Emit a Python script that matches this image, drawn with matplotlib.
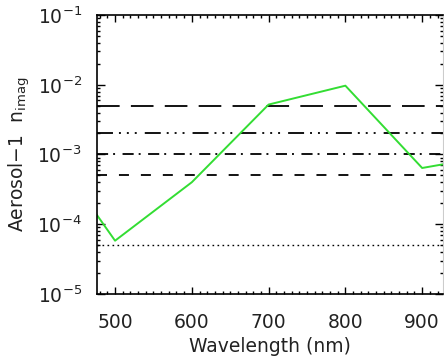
import matplotlib
matplotlib.use("Agg")
import matplotlib.pyplot as plt
from matplotlib.ticker import LogLocator, MultipleLocator, NullFormatter

# aerosol imaginary refractive index vs wavelength
wavelength = [450, 500, 600, 700, 800, 900, 1000]
n_imag = [3.5e-4, 5.8e-5, 4.0e-4, 5.2e-3, 9.7e-3, 6.4e-4, 1.0e-3]

# constant reference values (horizontal black lines)
ref_levels = [5e-3, 2e-3, 1e-3, 5e-4, 5e-5]
ref_dashes = [(16.3, 8.1),
              (11.5, 4.3, 1.4, 4.3, 1.4, 4.3, 1.4, 5.8),
              (8.0, 3.6, 1.4, 5.4),
              (7.2, 8.6),
              (1.2, 2.4)]
ref_widths = [1.3, 1.3, 1.3, 1.3, 1.0]

plt.rcParams["lines.scale_dashes"] = False
plt.rcParams["font.family"] = "DejaVu Sans"

fig = plt.figure(figsize=(4.44, 3.58), dpi=100)
ax = fig.add_axes([0.2185, 0.179, 0.779, 0.779])

for lev, d, w in zip(ref_levels, ref_dashes, ref_widths):
    ax.axhline(lev, color="black", lw=w, dashes=d)

ax.plot(wavelength, n_imag, color="#33dd33", lw=1.4)

ax.set_yscale("log")
ax.set_xlim(476.5, 927)
ax.set_ylim(1e-5, 1e-1)

ax.xaxis.set_major_locator(MultipleLocator(100))
ax.xaxis.set_minor_locator(MultipleLocator(10))
ax.yaxis.set_major_locator(LogLocator(base=10, numticks=10))
ax.yaxis.set_minor_locator(LogLocator(base=10, subs=range(2, 10), numticks=10))
ax.yaxis.set_minor_formatter(NullFormatter())

ax.tick_params(which="both", direction="in", top=True, right=True,
               labelsize=13.5, width=1, labelcolor="#222222")
ax.tick_params(which="major", length=5)
ax.tick_params(which="minor", length=2.5)
ax.tick_params(axis="y", which="major", length=6, pad=11)
ax.tick_params(axis="x", which="major", pad=14)

for s in ["left", "bottom", "top"]:
    ax.spines[s].set_linewidth(1.2)
ax.spines["right"].set_color("#cccccc")
ax.spines["right"].set_linewidth(0.8)

ax.set_xlabel("Wavelength (nm)", fontsize=13.5, labelpad=3, color="#222222")
ax.set_ylabel("Aerosol\u22121  n$_{\\mathregular{imag}}$", fontsize=13.5,
              labelpad=4, color="#222222")

fig.savefig("out.png", dpi=100)
